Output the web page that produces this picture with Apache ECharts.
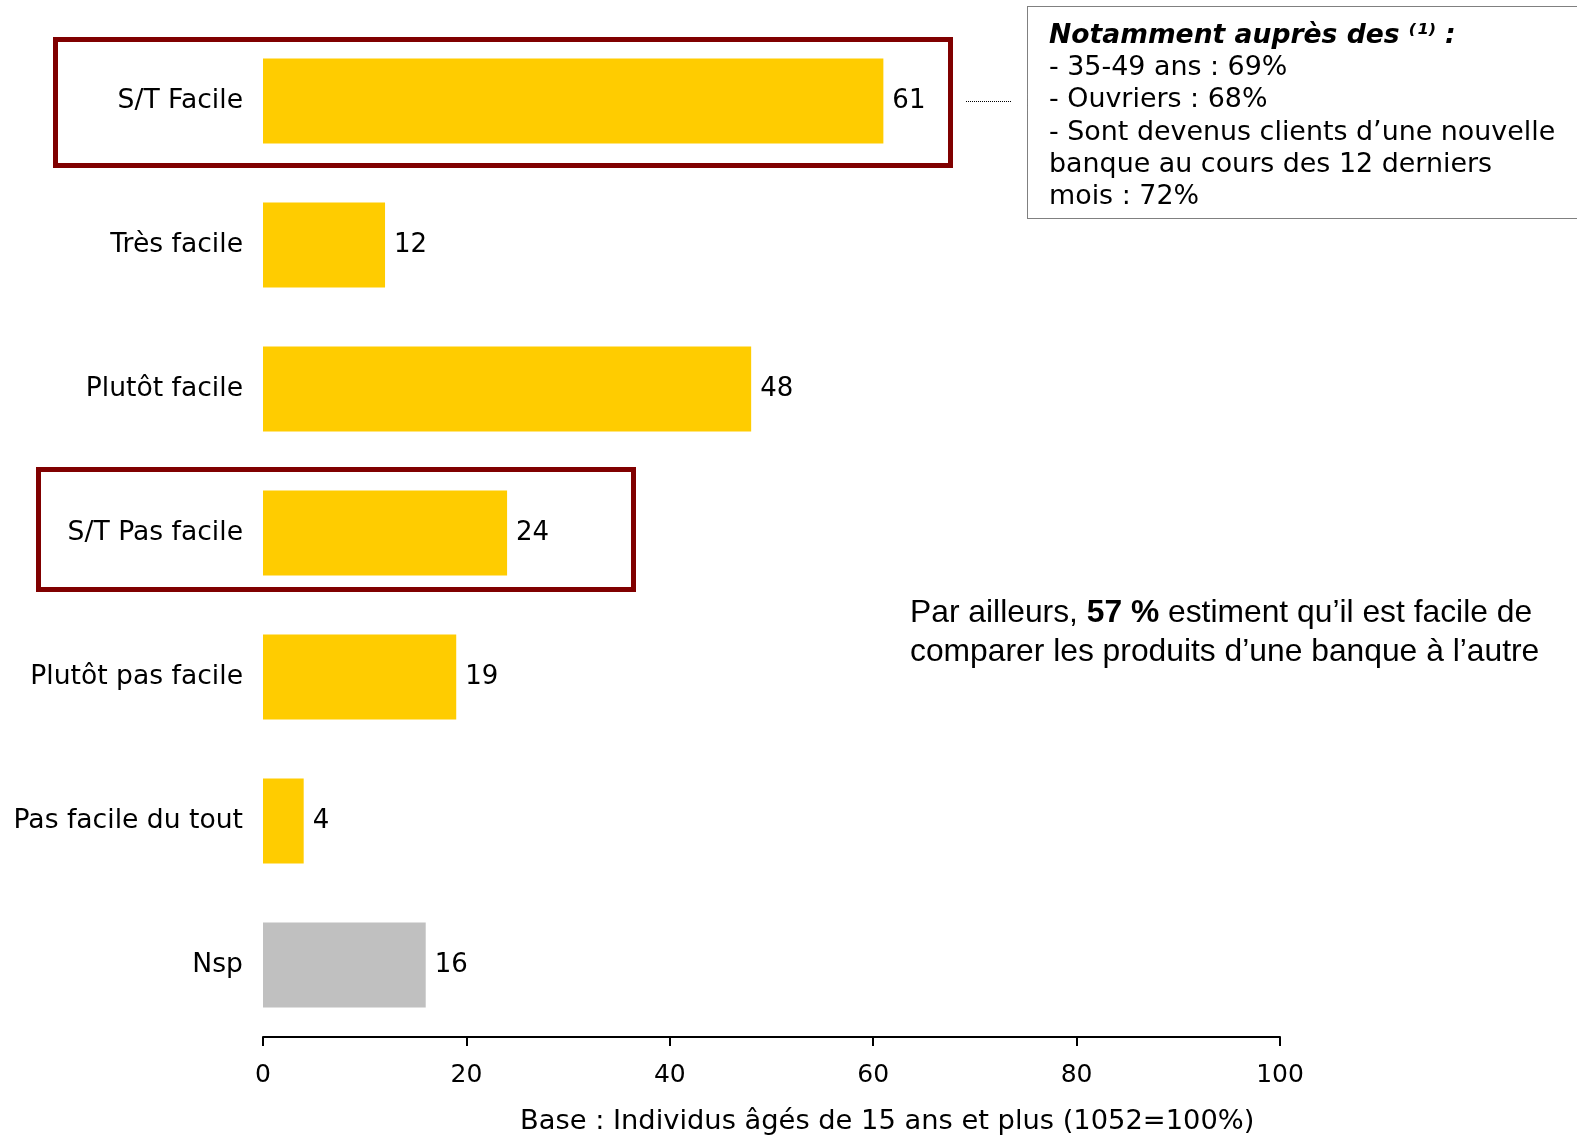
<!DOCTYPE html>
<html>
<head>
<meta charset="utf-8">
<script src="https://cdn.jsdelivr.net/npm/echarts@6/dist/echarts.min.js"></script>
<style>
html,body{margin:0;padding:0;background:#fff;}
#chart{width:1577px;height:1135px;}
</style>
</head>
<body>
<div id="chart"></div>
<script>
const categories = ['S/T Facile', 'Très facile', 'Plutôt facile', 'S/T Pas facile', 'Plutôt pas facile', 'Pas facile du tout', 'Nsp'];
const values = [61, 12, 48, 24, 19, 4, 16];
const xTicks = [0, 20, 40, 60, 80, 100];
const axisNote = 'Base : Individus âgés de 15 ans et plus (1052=100%)';
const boxTitle = 'Notamment auprès des ⁽¹⁾ :';
const boxLines = ['- 35-49 ans : 69%', '- Ouvriers : 68%', '- Sont devenus clients d’une nouvelle', 'banque au cours des 12 derniers', 'mois : 72%'];
const sideLine1 = ['Par ailleurs, ', '57 %', ' estiment qu’il est facile de'];
const sideLine2 = 'comparer les produits d’une banque à l’autre';

const YELLOW = '#FFCC00', GRAY = '#C0C0C0', RED = '#800000';
const FONT = 'DejaVu Sans';

const chart = echarts.init(document.getElementById('chart'), null, {renderer: 'canvas'});
const option = {
  animation: false,
  backgroundColor: '#fff',
  grid: {left: 263, right: 297, top: 29, bottom: 98, containLabel: false},
  xAxis: {
    type: 'value', min: xTicks[0], max: xTicks[xTicks.length - 1], interval: xTicks[1] - xTicks[0],
    axisLine: {show: true, lineStyle: {color: '#000', width: 2}},
    axisTick: {show: true, length: 9, lineStyle: {color: '#000', width: 2}},
    axisLabel: {color: '#000', fontFamily: FONT, fontSize: 25, margin: 26},
    splitLine: {show: false}
  },
  yAxis: {
    type: 'category', data: categories, inverse: true,
    axisLine: {show: false}, axisTick: {show: false},
    axisLabel: {color: '#000', fontFamily: FONT, fontSize: 26.6, margin: 20, padding: [5, 0, 0, 0]}
  },
  series: [{
    type: 'bar',
    barCategoryGap: '41%',
    data: values.map((v, i) => ({value: v, itemStyle: {color: categories[i] === 'Nsp' ? GRAY : YELLOW}})),
    label: {show: true, position: 'right', distance: 9, color: '#000', fontFamily: FONT, fontSize: 26, padding: [5, 0, 0, 0]}
  }],
  graphic: [
    {type: 'rect', shape: {x: 55.5, y: 39.5, width: 895, height: 126}, style: {fill: 'none', stroke: RED, lineWidth: 5}},
    {type: 'rect', shape: {x: 38.5, y: 469.5, width: 595, height: 120}, style: {fill: 'none', stroke: RED, lineWidth: 5}},
    {type: 'line', shape: {x1: 966, y1: 101.5, x2: 1012, y2: 101.5}, style: {stroke: '#000', lineWidth: 1, lineDash: [1, 1]}},
    {type: 'rect', shape: {x: 1027.5, y: 6.5, width: 600, height: 212}, style: {fill: 'none', stroke: '#000', lineWidth: 1, lineDash: [1, 1]}},
    {type: 'text', left: 1049, top: 20, style: {
      text: '{t|' + boxTitle + '}\n' + boxLines.join('\n'),
      fontFamily: FONT, fontSize: 26.9, fill: '#000', lineHeight: 32.2,
      rich: {t: {fontFamily: FONT, fontSize: 26.6, fontWeight: 'bold', fontStyle: 'italic', fill: '#000', lineHeight: 32.2}}
    }},
    {type: 'text', left: 910, top: 594, style: {
      text: sideLine1[0] + '{b|' + sideLine1[1] + '}' + sideLine1[2] + '\n' + sideLine2,
      fontFamily: 'Liberation Sans', fontSize: 31.8, fill: '#000', lineHeight: 38.5,
      rich: {b: {fontFamily: 'Liberation Sans', fontSize: 31.8, fontWeight: 'bold', fill: '#000', lineHeight: 38.5}}
    }},
    {type: 'text', left: 520, top: 1108, style: {text: axisNote, fontFamily: FONT, fontSize: 27.3, fill: '#000'}}
  ]
};
chart.setOption(option);
</script>
</body>
</html>
